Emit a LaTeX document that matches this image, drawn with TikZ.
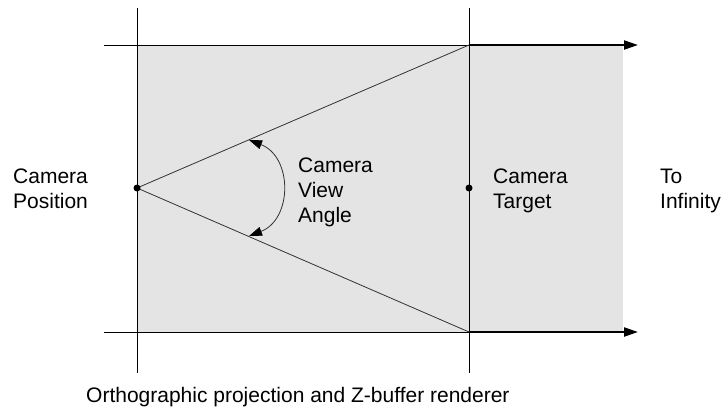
\documentclass[tikz,border=0pt]{standalone}
\usepackage{fontspec}
\setmainfont{Liberation Sans}
\usetikzlibrary{arrows.meta}
\usetikzlibrary{positioning}
\tikzstyle{guide} = [draw=black, line width=1pt]
\tikzstyle{ray} = [draw=raygray, line width=0.8pt]
\tikzstyle{toinf} = [draw=black, line width=2.2pt, -{Triangle[length=14pt,width=9pt]}]
\tikzstyle{viewarc} = [draw=raygray, line width=0.8pt, {Triangle[length=13pt,width=9pt,black]}-{Triangle[length=13pt,width=9pt,black]}]
\tikzstyle{spot} = [circle, fill=black, inner sep=0pt, minimum size=7pt]
\tikzstyle{label} = [font=\fontsize{21}{25}\selectfont, align=left, inner sep=0pt, anchor=base west]
\definecolor{field}{RGB}{228,228,228}
\definecolor{raygray}{RGB}{50,50,50}

\begin{document}
\begin{tikzpicture}[x=1pt, y=-1pt]
	\useasboundingbox (0,0) rectangle (723,407);
	% shaded view field
	\fill[field] (137,45) rectangle (623,332);

	\coordinate (campos) at (137,188);
	\coordinate (tgtpos) at (469,188);
	\coordinate (camtop) at (137,8);
	\coordinate (cambot) at (137,373);
	\coordinate (tgttop) at (469,8);
	\coordinate (tgtbot) at (469,373);
	\coordinate (topstart) at (104,45);
	\coordinate (topcorner) at (469,45);
	\coordinate (topend) at (638,45);
	\coordinate (botstart) at (104,332);
	\coordinate (botcorner) at (469,332);
	\coordinate (botend) at (638,332);
	\coordinate (angtop) at (249,140);
	\coordinate (angbot) at (249,236);

	% frame lines
	\draw[guide] (camtop) -- (cambot);
	\draw[guide] (tgttop) -- (tgtbot);
	\draw[guide] (topstart) -- (topcorner);
	\draw[guide] (botstart) -- (botcorner);

	% view rays and angle
	\draw[ray] (campos) -- (topcorner);
	\draw[ray] (campos) -- (botcorner);
	\draw[viewarc] (angtop) to[bend left=69, looseness=1.25] (angbot);

	\draw[toinf] (topcorner) -- (topend);
	\draw[toinf] (botcorner) -- (botend);

	\node[spot] (camera) at (campos) {};
	\node[spot] (target) at (tgtpos) {};

	\node[label] (position) at (13,208) {Camera\\Position};
	\node[label] (viewangle) at (298,222) {Camera\\View\\Angle};
	\node[label] (targettext) at (493,208) {Camera\\Target};
	\node[label] (infinity) at (660,208) {To\\Infinity};
	\node[label] (caption) at (86,402) {Orthographic projection and Z-buffer renderer};
\end{tikzpicture}
\end{document}
